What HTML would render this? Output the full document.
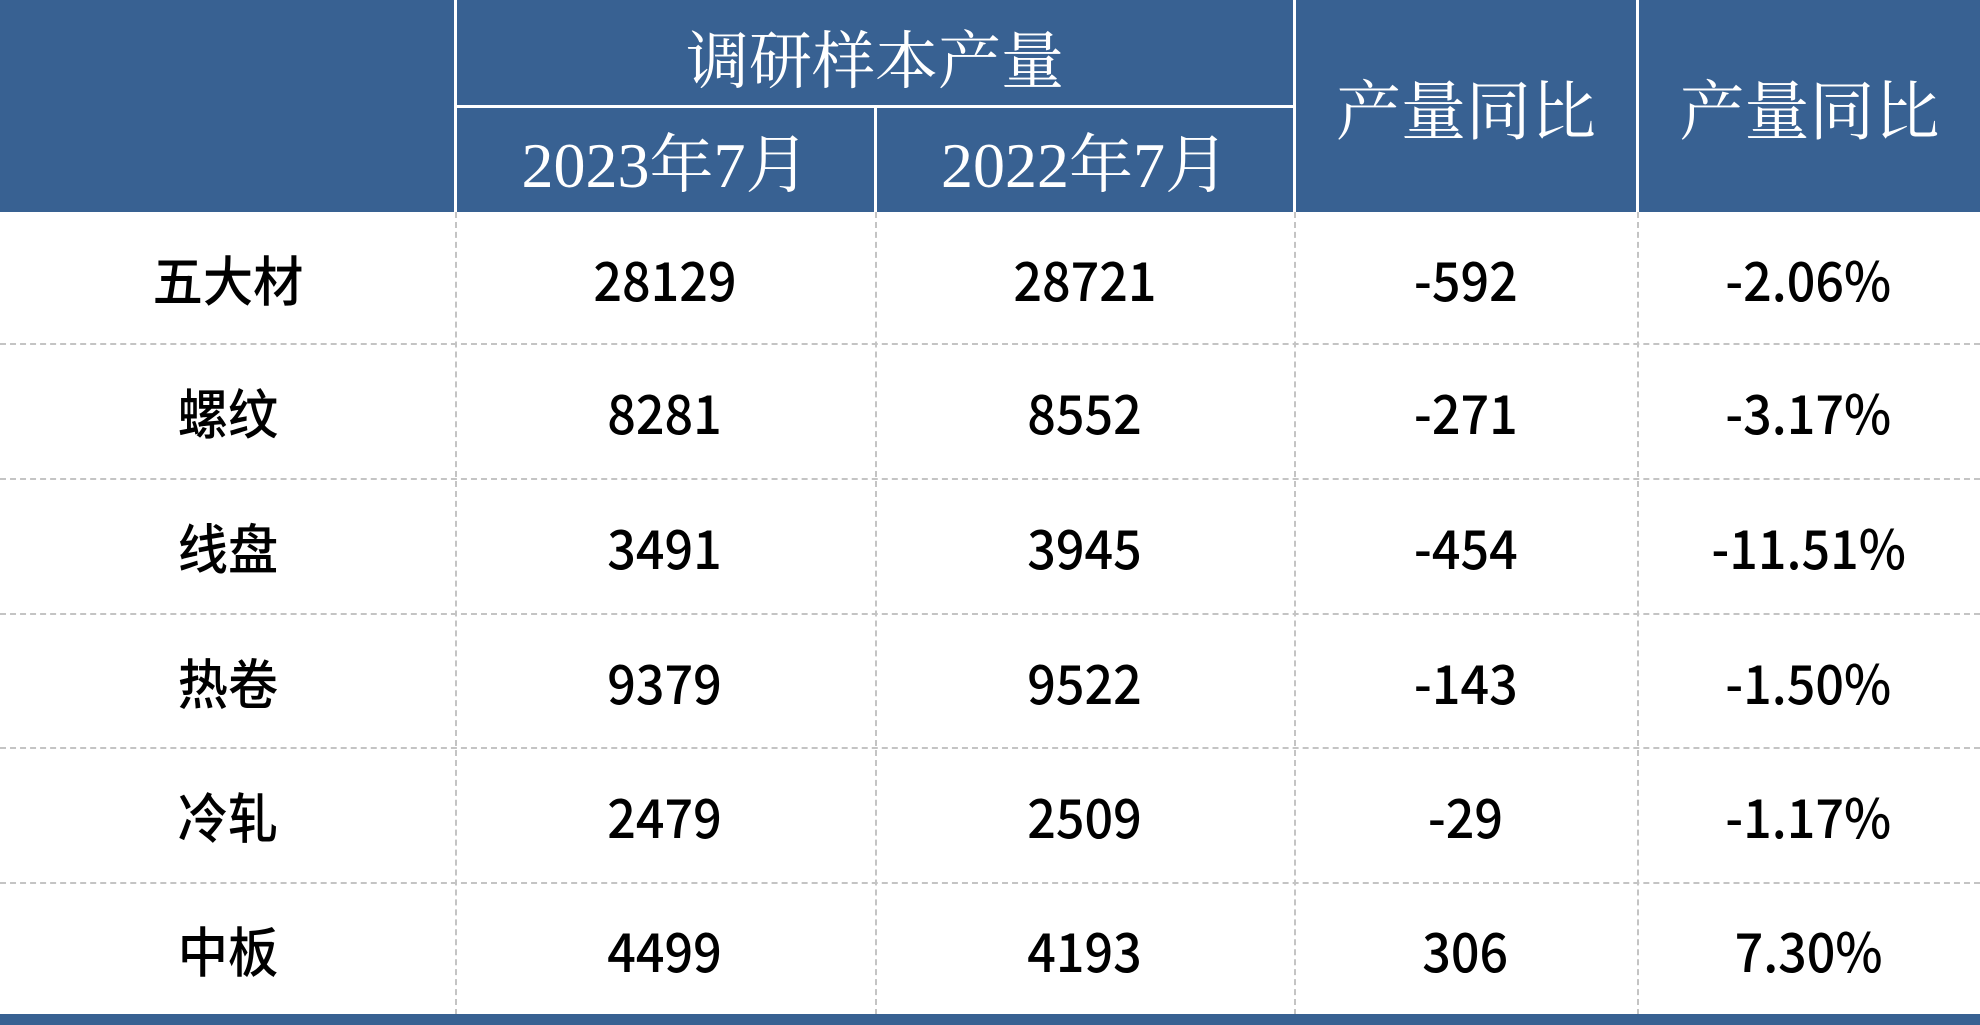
<!DOCTYPE html>
<html><head><meta charset="utf-8"><style>
html,body{margin:0;padding:0;width:1980px;height:1025px;background:#fff;overflow:hidden}
.c{position:absolute;display:flex;align-items:center;justify-content:center;box-sizing:border-box}
.h{background:#386192;color:#fff;font-family:"Liberation Serif","Noto Serif CJK SC",serif;font-size:64px}
.b{color:#000;font-family:"Noto Sans CJK SC","Liberation Sans",sans-serif;font-size:54px;font-weight:500}
.b span{display:inline-block;transform:scaleX(0.93)}
.vl{position:absolute;top:212px;height:803px;border-left:2px dashed #c4c4c4}
.hl{position:absolute;left:0;width:1980px;border-top:2px dashed #c4c4c4}
</style></head><body>
<div class="c h" style="left:0;top:0;width:454px;height:212px"></div>
<div class="c h" style="left:457px;top:0;width:836px;height:105px;font-size:63px;padding-top:8px">调研样本产量</div>
<div class="c h" style="left:457px;top:108px;width:417px;height:104px">2023年7月</div>
<div class="c h" style="left:877px;top:108px;width:416px;height:104px">2022年7月</div>
<div class="c h" style="left:1296px;top:0;width:340px;height:212px;font-size:65px">产量同比</div>
<div class="c h" style="left:1639px;top:0;width:341px;height:212px;font-size:65px">产量同比</div>
<div class="vl" style="left:455px"></div>
<div class="vl" style="left:875px"></div>
<div class="vl" style="left:1294px"></div>
<div class="vl" style="left:1637px"></div>
<div class="hl" style="top:343px"></div>
<div class="hl" style="top:478px"></div>
<div class="hl" style="top:613px"></div>
<div class="hl" style="top:747px"></div>
<div class="hl" style="top:882px"></div>
<div style="position:absolute;left:0;top:1014px;width:1980px;height:11px;background:#386192"></div>
<div id="rows"></div>
<script>
var d=[["五大材","28129","28721","-592","-2.06%"],["螺纹","8281","8552","-271","-3.17%"],["线盘","3491","3945","-454","-11.51%"],["热卷","9379","9522","-143","-1.50%"],["冷轧","2479","2509","-29","-1.17%"],["中板","4499","4193","306","7.30%"]];
var xs=[0,455,875,1294,1637,1980],tops=[212,343,478,613,747,882,1014],h="";
for(var i=0;i<6;i++)for(var j=0;j<5;j++)h+='<div class="c b" style="left:'+xs[j]+'px;top:'+tops[i]+'px;width:'+(xs[j+1]-xs[j])+'px;height:'+(tops[i+1]-tops[i])+'px"><span>'+d[i][j]+'</span></div>';
document.getElementById("rows").innerHTML=h;
</script>
</body></html>
